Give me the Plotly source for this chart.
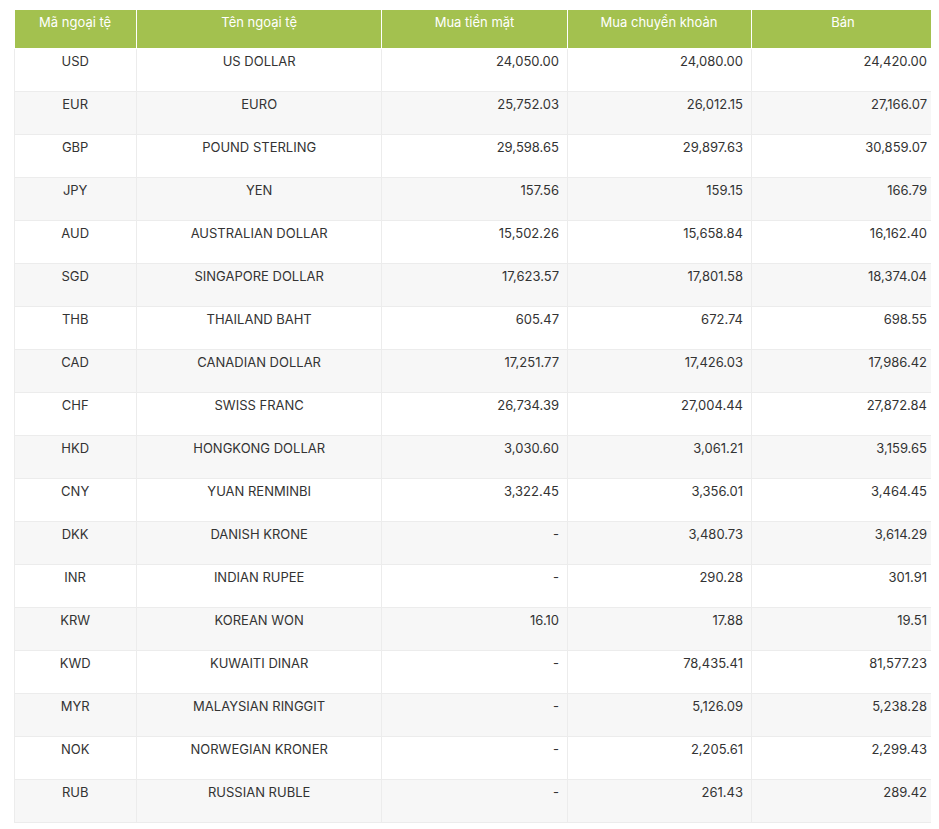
import plotly.graph_objects as go

headers = ["Mã ngoại tệ", "Tên ngoại tệ", "Mua tiền mặt", "Mua chuyển khoản", "Bán"]
codes = ["USD", "EUR", "GBP", "JPY", "AUD", "SGD", "THB", "CAD", "CHF", "HKD",
         "CNY", "DKK", "INR", "KRW", "KWD", "MYR", "NOK", "RUB"]
names = ["US DOLLAR", "EURO", "POUND STERLING", "YEN", "AUSTRALIAN DOLLAR",
         "SINGAPORE DOLLAR", "THAILAND BAHT", "CANADIAN DOLLAR", "SWISS FRANC",
         "HONGKONG DOLLAR", "YUAN RENMINBI", "DANISH KRONE", "INDIAN RUPEE",
         "KOREAN WON", "KUWAITI DINAR", "MALAYSIAN RINGGIT", "NORWEGIAN KRONER",
         "RUSSIAN RUBLE"]
buy_cash = ["24,050.00", "25,752.03", "29,598.65", "157.56", "15,502.26", "17,623.57",
            "605.47", "17,251.77", "26,734.39", "3,030.60", "3,322.45", "-", "-",
            "16.10", "-", "-", "-", "-"]
buy_transfer = ["24,080.00", "26,012.15", "29,897.63", "159.15", "15,658.84", "17,801.58",
                "672.74", "17,426.03", "27,004.44", "3,061.21", "3,356.01", "3,480.73",
                "290.28", "17.88", "78,435.41", "5,126.09", "2,205.61", "261.43"]
sell = ["24,420.00", "27,166.07", "30,859.07", "166.79", "16,162.40", "18,374.04",
        "698.55", "17,986.42", "27,872.84", "3,159.65", "3,464.45", "3,614.29",
        "301.91", "19.51", "81,577.23", "5,238.28", "2,299.43", "289.42"]

fills = ["white" if i % 2 == 0 else "#f7f7f7" for i in range(len(codes))]

fig = go.Figure(go.Table(
    columnwidth=[121, 243, 183, 182, 182],
    header=dict(values=headers, fill_color="#a3c14f", height=39,
                align="center", line=dict(color="white", width=1),
                font=dict(family="Inter", size=13, color="white")),
    cells=dict(values=[codes, names, buy_cash, buy_transfer, sell],
               fill_color=[fills], height=43,
               align=["center", "center", "right", "right", "right"],
               line=dict(color="#ececec", width=1),
               font=dict(family="Inter", size=13, color="#333333")),
))
fig.update_layout(width=939, height=829, margin=dict(l=6, r=12, t=1, b=0),
                  paper_bgcolor="white")
fig.write_html("out.html")
